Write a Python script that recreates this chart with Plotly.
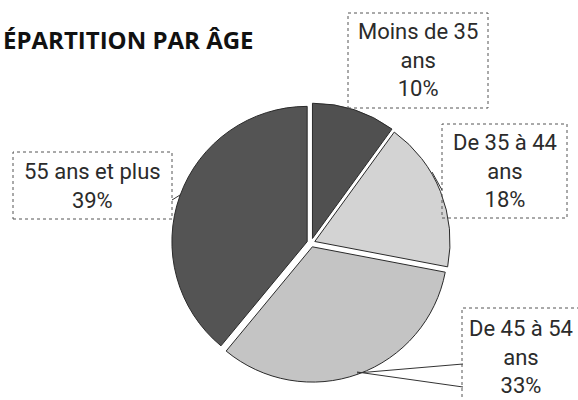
import plotly.graph_objects as go

W, H = 578, 400

# data
categories = ["Moins de 35 ans", "De 35 à 44 ans", "De 45 à 54 ans", "55 ans et plus"]
values = [10, 18, 33, 39]
label_lines = ["Moins de 35<br>ans<br>10%", "De 35 à 44<br>ans<br>18%",
               "De 45 à 54<br>ans<br>33%", "55 ans et plus<br>39%"]
slice_colors = ["#505050", "#d3d3d3", "#c4c4c4", "#545454"]


def px(x):
    return x / W


def py(y):
    return 1 - y / H


fig = go.Figure()

# pie centre ~ (311, 243) px, radius ~136 px
cx, cy, r = 311, 243, 140
fig.add_trace(go.Pie(
    labels=categories, values=values, sort=False, direction="clockwise", rotation=0,
    marker=dict(colors=slice_colors, line=dict(color="#2a2a2a", width=1)),
    pull=[0.035, 0.03, 0.03, 0.03], textinfo="none", hoverinfo="label+percent",
    showlegend=False,
    domain=dict(x=[px(cx - r), px(cx + r)], y=[py(cy + r), py(cy - r)]),
))

# label boxes (left, top, right, bottom) in px and text centres
boxes = [(348, 13, 488, 108), (442, 124, 567, 218), (462, 308, 600, 420), (13, 152, 172, 219)]
centres = [(418, 60), (505, 171), (521, 357), (92, 186)]

shapes = []
annotations = []
for txt, (x0, y0, x1, y1), (tx, ty) in zip(label_lines, boxes, centres):
    shapes.append(dict(type="rect", xref="paper", yref="paper",
                       x0=px(x0), x1=px(x1), y0=py(y1), y1=py(y0),
                       line=dict(color="#555555", width=1, dash="dot")))
    annotations.append(dict(text=txt, xref="paper", yref="paper", x=px(tx), y=py(ty),
                            xanchor="center", yanchor="middle",
                            showarrow=False, align="center",
                            font=dict(family="Roboto", size=22, color="#2b2b2b")))

# leader lines
leaders = [((442, 190), (432, 172)), ((172, 200), (180, 195)),
           ((463, 364), (357, 373)), ((463, 387), (357, 372))]
for (x0, y0), (x1, y1) in leaders:
    shapes.append(dict(type="line", xref="paper", yref="paper",
                       x0=px(x0), y0=py(y0), x1=px(x1), y1=py(y1),
                       line=dict(color="#333333", width=1)))

annotations.append(dict(text="<b>ÉPARTITION PAR ÂGE</b>", xref="paper", yref="paper",
                        x=px(1), y=py(40), xanchor="left", yanchor="middle", showarrow=False,
                        font=dict(family="Open Sans", size=24, color="#111111")))

fig.update_layout(width=W, height=H, margin=dict(l=0, r=0, t=0, b=0),
                  paper_bgcolor="white", plot_bgcolor="white",
                  shapes=shapes, annotations=annotations)

fig.write_html("out.html", config={"displayModeBar": False},
               post_script="document.body.style.margin='0';")
